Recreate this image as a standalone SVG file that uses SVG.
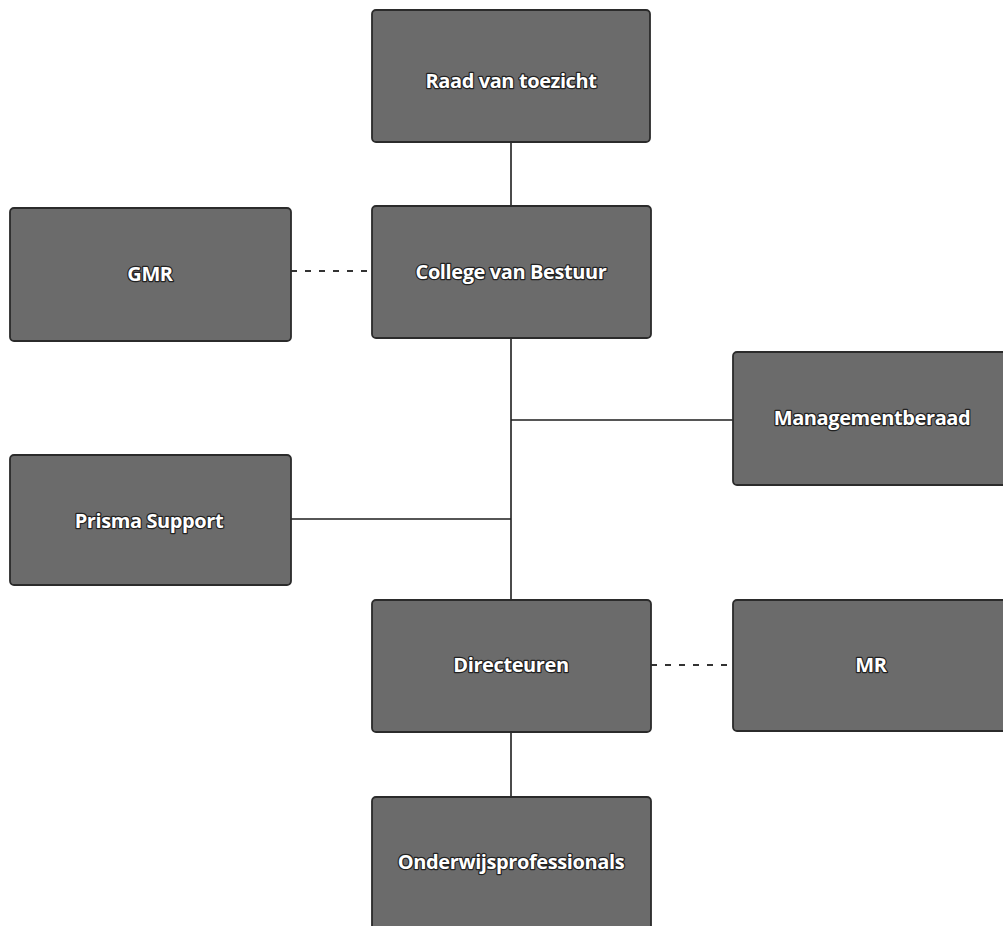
<svg xmlns="http://www.w3.org/2000/svg" width="1003" height="926" viewBox="0 0 1003 926">
<style>
.box{fill:#6b6b6b;stroke:#2b2b2b;stroke-width:1.8}
.lbl{font-family:"Open Sans","Noto Sans","Liberation Sans",sans-serif;font-weight:700;font-size:20px;fill:#ffffff;stroke:#222;stroke-width:2.4;paint-order:stroke;stroke-linejoin:round;text-anchor:middle;dominant-baseline:central;letter-spacing:-0.4px}
.ln{stroke:#1e1e1e;stroke-width:1.6;fill:none}
.dash{stroke:#333;stroke-width:1.8;fill:none;stroke-dasharray:6 8}
</style>
<rect width="1003" height="926" fill="#ffffff"/>
<g id="connectors">
<line class="ln" x1="511" y1="142" x2="511" y2="206"/>
<line class="ln" x1="511" y1="338" x2="511" y2="600"/>
<line class="ln" x1="511" y1="420" x2="733" y2="420"/>
<line class="ln" x1="291" y1="519" x2="511" y2="519"/>
<line class="ln" x1="511" y1="732" x2="511" y2="797"/>
<line class="dash" x1="291" y1="271" x2="372" y2="271"/>
<line class="dash" x1="651" y1="665" x2="733" y2="665"/>
</g>
<g id="raad"><rect class="box" x="372" y="10" width="278" height="132" rx="4"/><text class="lbl" x="511" y="80">Raad van toezicht</text></g>
<g id="college"><rect class="box" x="372" y="206" width="279" height="132" rx="4"/><text class="lbl" x="511" y="271">College van Bestuur</text></g>
<g id="gmr"><rect class="box" x="10" y="208" width="281" height="133" rx="4"/><text class="lbl" x="150" y="273">GMR</text></g>
<g id="management"><rect class="box" x="733" y="352" width="280" height="133" rx="4"/><text class="lbl" x="872" y="417">Managementberaad</text></g>
<g id="prisma"><rect class="box" x="10" y="455" width="281" height="130" rx="4"/><text class="lbl" x="149" y="520">Prisma Support</text></g>
<g id="directeuren"><rect class="box" x="372" y="600" width="279" height="132" rx="4"/><text class="lbl" x="511" y="664">Directeuren</text></g>
<g id="mr"><rect class="box" x="733" y="600" width="280" height="131" rx="4"/><text class="lbl" x="871" y="664">MR</text></g>
<g id="onderwijs"><rect class="box" x="372" y="797" width="279" height="140" rx="4"/><text class="lbl" x="511" y="861">Onderwijsprofessionals</text></g>
</svg>
